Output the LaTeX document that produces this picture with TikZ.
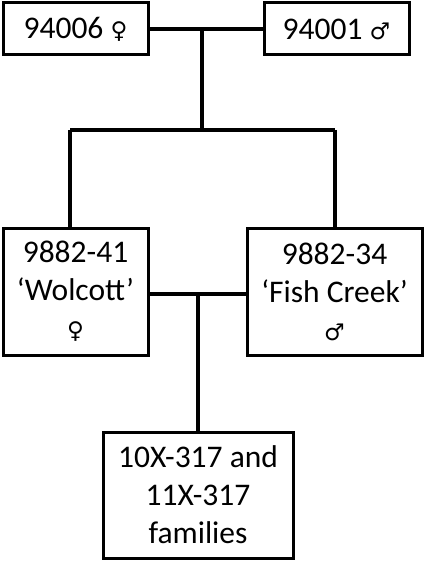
\documentclass[tikz,border=0pt]{standalone}
\usepackage{fontspec}
\setmainfont{Carlito}
\newfontfamily\symfont{DejaVu Sans}
\newcommand{\fem}{{\symfont\fontsize{23}{23}\selectfont ♀}}
\newcommand{\mal}{{\symfont\fontsize{23}{23}\selectfont ♂}}
\begin{document}
\begin{tikzpicture}[x=1pt,y=-1pt,
  box/.style={draw,line width=3pt,inner sep=0pt,align=center,
    font=\fontsize{31.5}{38}\selectfont},
  link/.style={line width=4pt}]
\useasboundingbox (0,0) rectangle (425,561);
% parents
\node[box,minimum width=145pt,minimum height=52pt] (p1) at (75.5,29) {94006 \fem};
\node[box,minimum width=145pt,minimum height=52pt] (p2) at (336.5,29) {94001 \mal};
% first generation
\node[box,minimum width=145pt,minimum height=127pt] (c1) at (75.5,291.5) {9882-41\\‘Wolcott’\\\fem};
\node[box,minimum width=175pt,minimum height=127pt] (c2) at (334.5,291.5) {9882-34\\‘Fish Creek’\\\mal};
% offspring
\node[box,minimum width=190pt,minimum height=126pt] (f) at (198,495) {10X-317 and\\11X-317\\families};
% mating and descent lines
\coordinate (m1) at (202,29);
\coordinate (s1) at (202,130);
\coordinate (sl) at (70,130);
\coordinate (sr) at (335,130);
\draw[link] (p1.east) -- (p2.west);
\draw[link] (m1) -- (s1);
\draw[link] (sl) -- (sr);
\draw[link] (sl) -- (sl |- c1.north);
\draw[link] (sr) -- (sr |- c2.north);
\coordinate (m2) at (198,294);
\draw[link] (c1.east |- m2) -- (c2.west |- m2);
\draw[link] (m2) -- (f.north);
\end{tikzpicture}
\end{document}
